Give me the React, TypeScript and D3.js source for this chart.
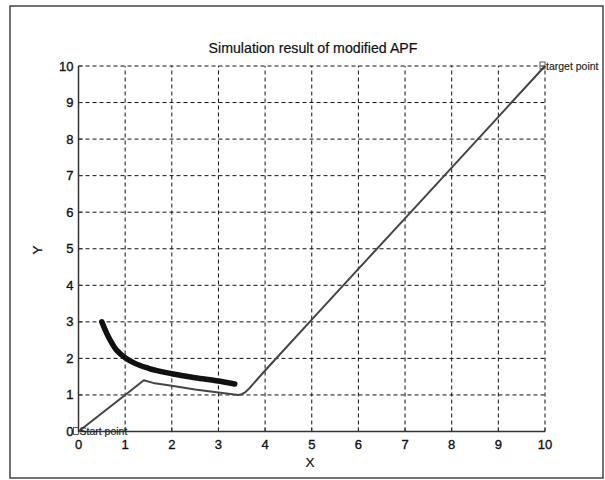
import React from "react";
import * as d3 from "d3";

// Planned path of the robot (modified artificial potential field)
const pathX = [0, 0.5, 1.0, 1.4, 1.6, 2.0, 2.5, 3.0, 3.3, 3.42, 3.5, 3.58, 3.66, 4.0, 5.0, 6.0, 7.0, 8.0, 9.0, 10.0];
const pathY = [0, 0.5, 1.0, 1.4, 1.33, 1.25, 1.15, 1.07, 1.02, 1.0, 1.02, 1.08, 1.18, 1.67, 3.06, 4.45, 5.83, 7.22, 8.61, 10.0];

// Obstacle boundary drawn as a thick curve
const obsX = [0.5, 0.6, 0.7, 0.8, 0.9, 1.0, 1.2, 1.5, 2.0, 2.5, 3.0, 3.35];
const obsY = [3.0, 2.7, 2.45, 2.25, 2.12, 2.02, 1.87, 1.73, 1.58, 1.47, 1.38, 1.3];

const xTicks = [0, 1, 2, 3, 4, 5, 6, 7, 8, 9, 10];
const yTicks = [0, 1, 2, 3, 4, 5, 6, 7, 8, 9, 10];

const W = 605;
const H = 480;
const font = "'Liberation Sans', Arial, sans-serif";

export default function App() {
  const x = d3.scaleLinear().domain([0, 10]).range([78.5, 545]);
  const y = d3.scaleLinear().domain([0, 10]).range([431.5, 66]);

  const path = pathX.map((v, i) => [v, pathY[i]] as [number, number]);
  const obs = obsX.map((v, i) => [v, obsY[i]] as [number, number]);

  const pathLine = d3
    .line<[number, number]>()
    .x((d) => x(d[0]))
    .y((d) => y(d[1]));
  const obsLine = d3
    .line<[number, number]>()
    .x((d) => x(d[0]))
    .y((d) => y(d[1]))
    .curve(d3.curveMonotoneX);

  const tickText = { fontSize: 13, fill: "#111", stroke: "#111", strokeWidth: 0.35 };

  return (
    <svg
      width={W}
      height={H}
      style={{ position: "absolute", left: 0, top: 0, background: "#fff" }}
      fontFamily={font}
    >
      <rect x={10} y={6} width={593} height={472} fill="none" stroke="#444" strokeWidth={1.5} />

      {/* grid */}
      {xTicks.map((t) => (
        <line
          key={"gx" + t}
          x1={x(t)}
          x2={x(t)}
          y1={y(0)}
          y2={y(10)}
          stroke="#111"
          strokeWidth={1}
          strokeDasharray="4,3"
        />
      ))}
      {yTicks.map((t) => (
        <line
          key={"gy" + t}
          x1={x(0)}
          x2={x(10)}
          y1={y(t)}
          y2={y(t)}
          stroke="#111"
          strokeWidth={1}
          strokeDasharray="4,3"
        />
      ))}

      {/* axes */}
      <line x1={x(0)} x2={x(0)} y1={y(0)} y2={y(10)} stroke="#333" strokeWidth={1.5} />
      <line x1={x(0)} x2={x(10)} y1={y(0)} y2={y(0)} stroke="#333" strokeWidth={1.5} />
      {xTicks.map((t) => (
        <line key={"tx" + t} x1={x(t)} x2={x(t)} y1={y(0)} y2={y(0) - 4} stroke="#333" strokeWidth={1} />
      ))}
      {yTicks.map((t) => (
        <line key={"ty" + t} x1={x(0)} x2={x(0) + 4} y1={y(t)} y2={y(t)} stroke="#333" strokeWidth={1} />
      ))}

      {/* tick labels */}
      {xTicks.map((t) => (
        <text key={"lx" + t} x={x(t)} y={y(0) + 17} textAnchor="middle" {...tickText}>
          {t}
        </text>
      ))}
      {yTicks.map((t) => (
        <text key={"ly" + t} x={x(0) - 5} y={y(t) + 4.5} textAnchor="end" {...tickText}>
          {t}
        </text>
      ))}

      {/* titles */}
      <text x={313} y={53} fontSize={14.2} textAnchor="middle" fill="#111" stroke="#111" strokeWidth={0.2}>
        Simulation result of modified APF
      </text>
      <text x={310} y={467} fontSize={13.5} textAnchor="middle" fill="#111" stroke="#111" strokeWidth={0.2}>
        X
      </text>
      <text
        x={42}
        y={250}
        fontSize={13.5}
        textAnchor="middle"
        fill="#111"
        stroke="#111"
        strokeWidth={0.2}
        transform="rotate(-90,42,250)"
      >
        Y
      </text>

      {/* curves */}
      <path d={obsLine(obs) || ""} fill="none" stroke="#111" strokeWidth={5.5} strokeLinecap="round" />
      <path d={pathLine(path) || ""} fill="none" stroke="#444" strokeWidth={2} strokeLinejoin="round" />

      {/* annotations */}
      <rect x={x(0) - 5} y={y(0) - 4} width={5} height={7} fill="none" stroke="#333" strokeWidth={0.8} />
      <text x={x(0) + 1} y={y(0) + 3.5} fontSize={10.5} fill="#222" stroke="#222" strokeWidth={0.15}>
        Start point
      </text>
      <rect x={x(10) - 5} y={y(10) - 4} width={5} height={7} fill="none" stroke="#333" strokeWidth={0.8} />
      <text x={x(10) + 1} y={y(10) + 3.5} fontSize={10.5} fill="#222" stroke="#222" strokeWidth={0.15}>
        target point
      </text>
    </svg>
  );
}
